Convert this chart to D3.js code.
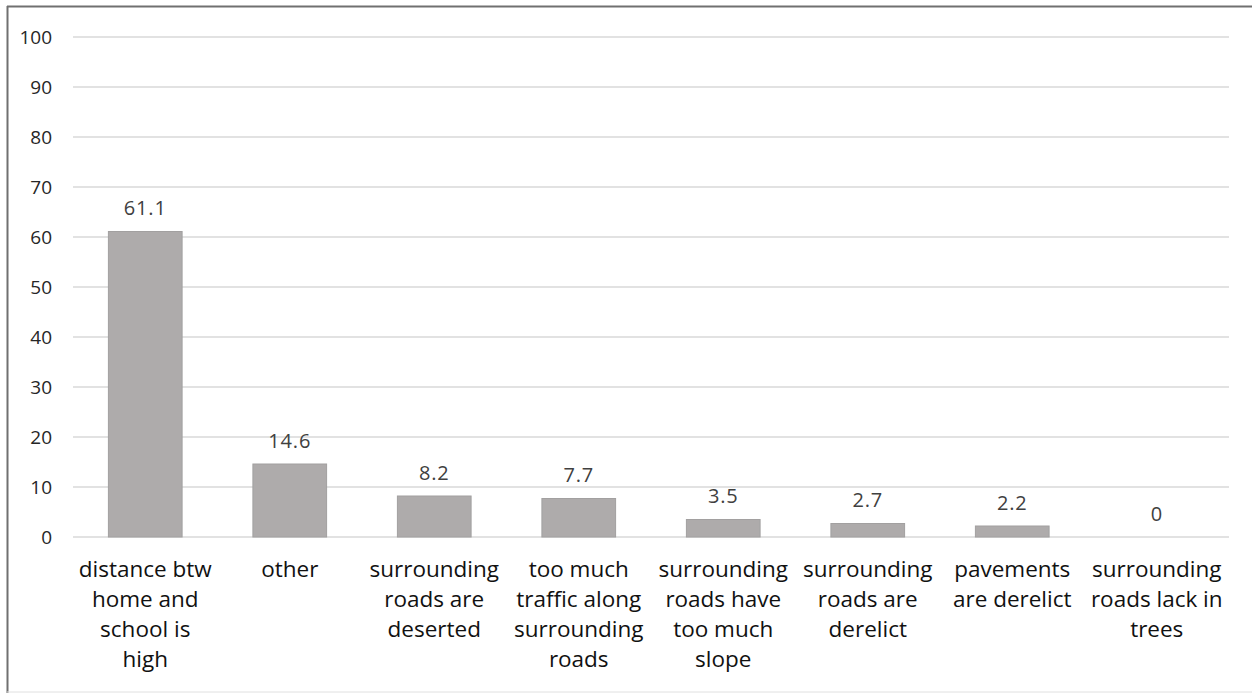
<!DOCTYPE html>
<html>
<head>
<meta charset="utf-8">
<script src="https://cdn.jsdelivr.net/npm/d3@7"></script>
<style>
  html, body { margin: 0; padding: 0; background: #fff; }
  svg { display: block; font-family: "Open Sans", "Liberation Sans", sans-serif; }
</style>
</head>
<body>
<div id="chart"></div>
<script>
// categories, wrapped as in the original
const categories = [
    ["distance btw", "home and", "school is", "high"],
    ["other"],
    ["surrounding", "roads are", "deserted"],
    ["too much", "traffic along", "surrounding", "roads"],
    ["surrounding", "roads have", "too much", "slope"],
    ["surrounding", "roads are", "derelict"],
    ["pavements", "are derelict"],
    ["surrounding", "roads lack in", "trees"]
];
const values = [61.1, 14.6, 8.2, 7.7, 3.5, 2.7, 2.2, 0];
const yTicks = [0, 10, 20, 30, 40, 50, 60, 70, 80, 90, 100];

const width = 1252, height = 693;
const margin = { top: 37, right: 23, bottom: 156, left: 73 };

const svg = d3.select("#chart").append("svg")
    .attr("width", width)
    .attr("height", height);

// frame (the right edge is cut off in the original)
svg.append("line")
    .attr("x1", 7.5).attr("x2", 7.5).attr("y1", 6).attr("y2", 693)
    .attr("stroke", "#707070").attr("stroke-width", 2);
svg.append("line")
    .attr("x1", 7).attr("x2", width).attr("y1", 6.5).attr("y2", 6.5)
    .attr("stroke", "#707070").attr("stroke-width", 2);
svg.append("line")
    .attr("x1", 7).attr("x2", width).attr("y1", 692).attr("y2", 692)
    .attr("stroke", "#e0e0e0").attr("stroke-width", 1);

const x = d3.scaleBand()
    .domain(d3.range(values.length))
    .range([margin.left, width - margin.right])
    .paddingInner(0.49)
    .paddingOuter(0.245);

const y = d3.scaleLinear()
    .domain([0, 100])
    .range([height - margin.bottom, margin.top]);

// gridlines
svg.append("g")
    .selectAll("line")
    .data(yTicks)
    .join("line")
    .attr("x1", margin.left)
    .attr("x2", width - margin.right)
    .attr("y1", d => y(d))
    .attr("y2", d => y(d))
    .attr("stroke", "#d9d9d9")
    .attr("stroke-width", 1.5);

// y axis labels
const yAxis = d3.axisLeft(y).tickValues(yTicks).tickSize(0).tickPadding(21);
svg.append("g")
    .attr("transform", `translate(${margin.left},0)`)
    .call(yAxis)
    .call(g => g.select(".domain").remove())
    .call(g => g.selectAll("text")
        .attr("font-size", 19)
        .attr("font-family", "Open Sans, sans-serif")
        .attr("fill", "#262626"));

// bars
svg.append("g")
    .selectAll("rect")
    .data(values)
    .join("rect")
    .attr("x", (d, i) => x(i))
    .attr("width", x.bandwidth())
    .attr("y", d => y(d))
    .attr("height", d => y(0) - y(d))
    .attr("fill", "#aeabab")
    .attr("stroke", "#a2a0a0")
    .attr("stroke-width", 1);

// value labels
svg.append("g")
    .selectAll("text")
    .data(values)
    .join("text")
    .attr("x", (d, i) => x(i) + x.bandwidth() / 2)
    .attr("y", d => y(d) - 24)
    .attr("text-anchor", "middle")
    .attr("dominant-baseline", "central")
    .attr("font-size", 20)
    .attr("letter-spacing", 0.8)
    .attr("fill", "#404040")
    .text(d => d);

// category labels
const xl = svg.append("g")
    .selectAll("text")
    .data(categories)
    .join("text")
    .attr("x", (d, i) => x(i) + x.bandwidth() / 2)
    .attr("y", 577)
    .attr("text-anchor", "middle")
    .attr("font-size", 22.5)
    .attr("fill", "#111");

xl.selectAll("tspan")
    .data(d => d)
    .join("tspan")
    .attr("x", function () { return d3.select(this.parentNode).attr("x"); })
    .attr("dy", (d, i) => i === 0 ? 0 : 30)
    .text(d => d);
</script>
</body>
</html>
